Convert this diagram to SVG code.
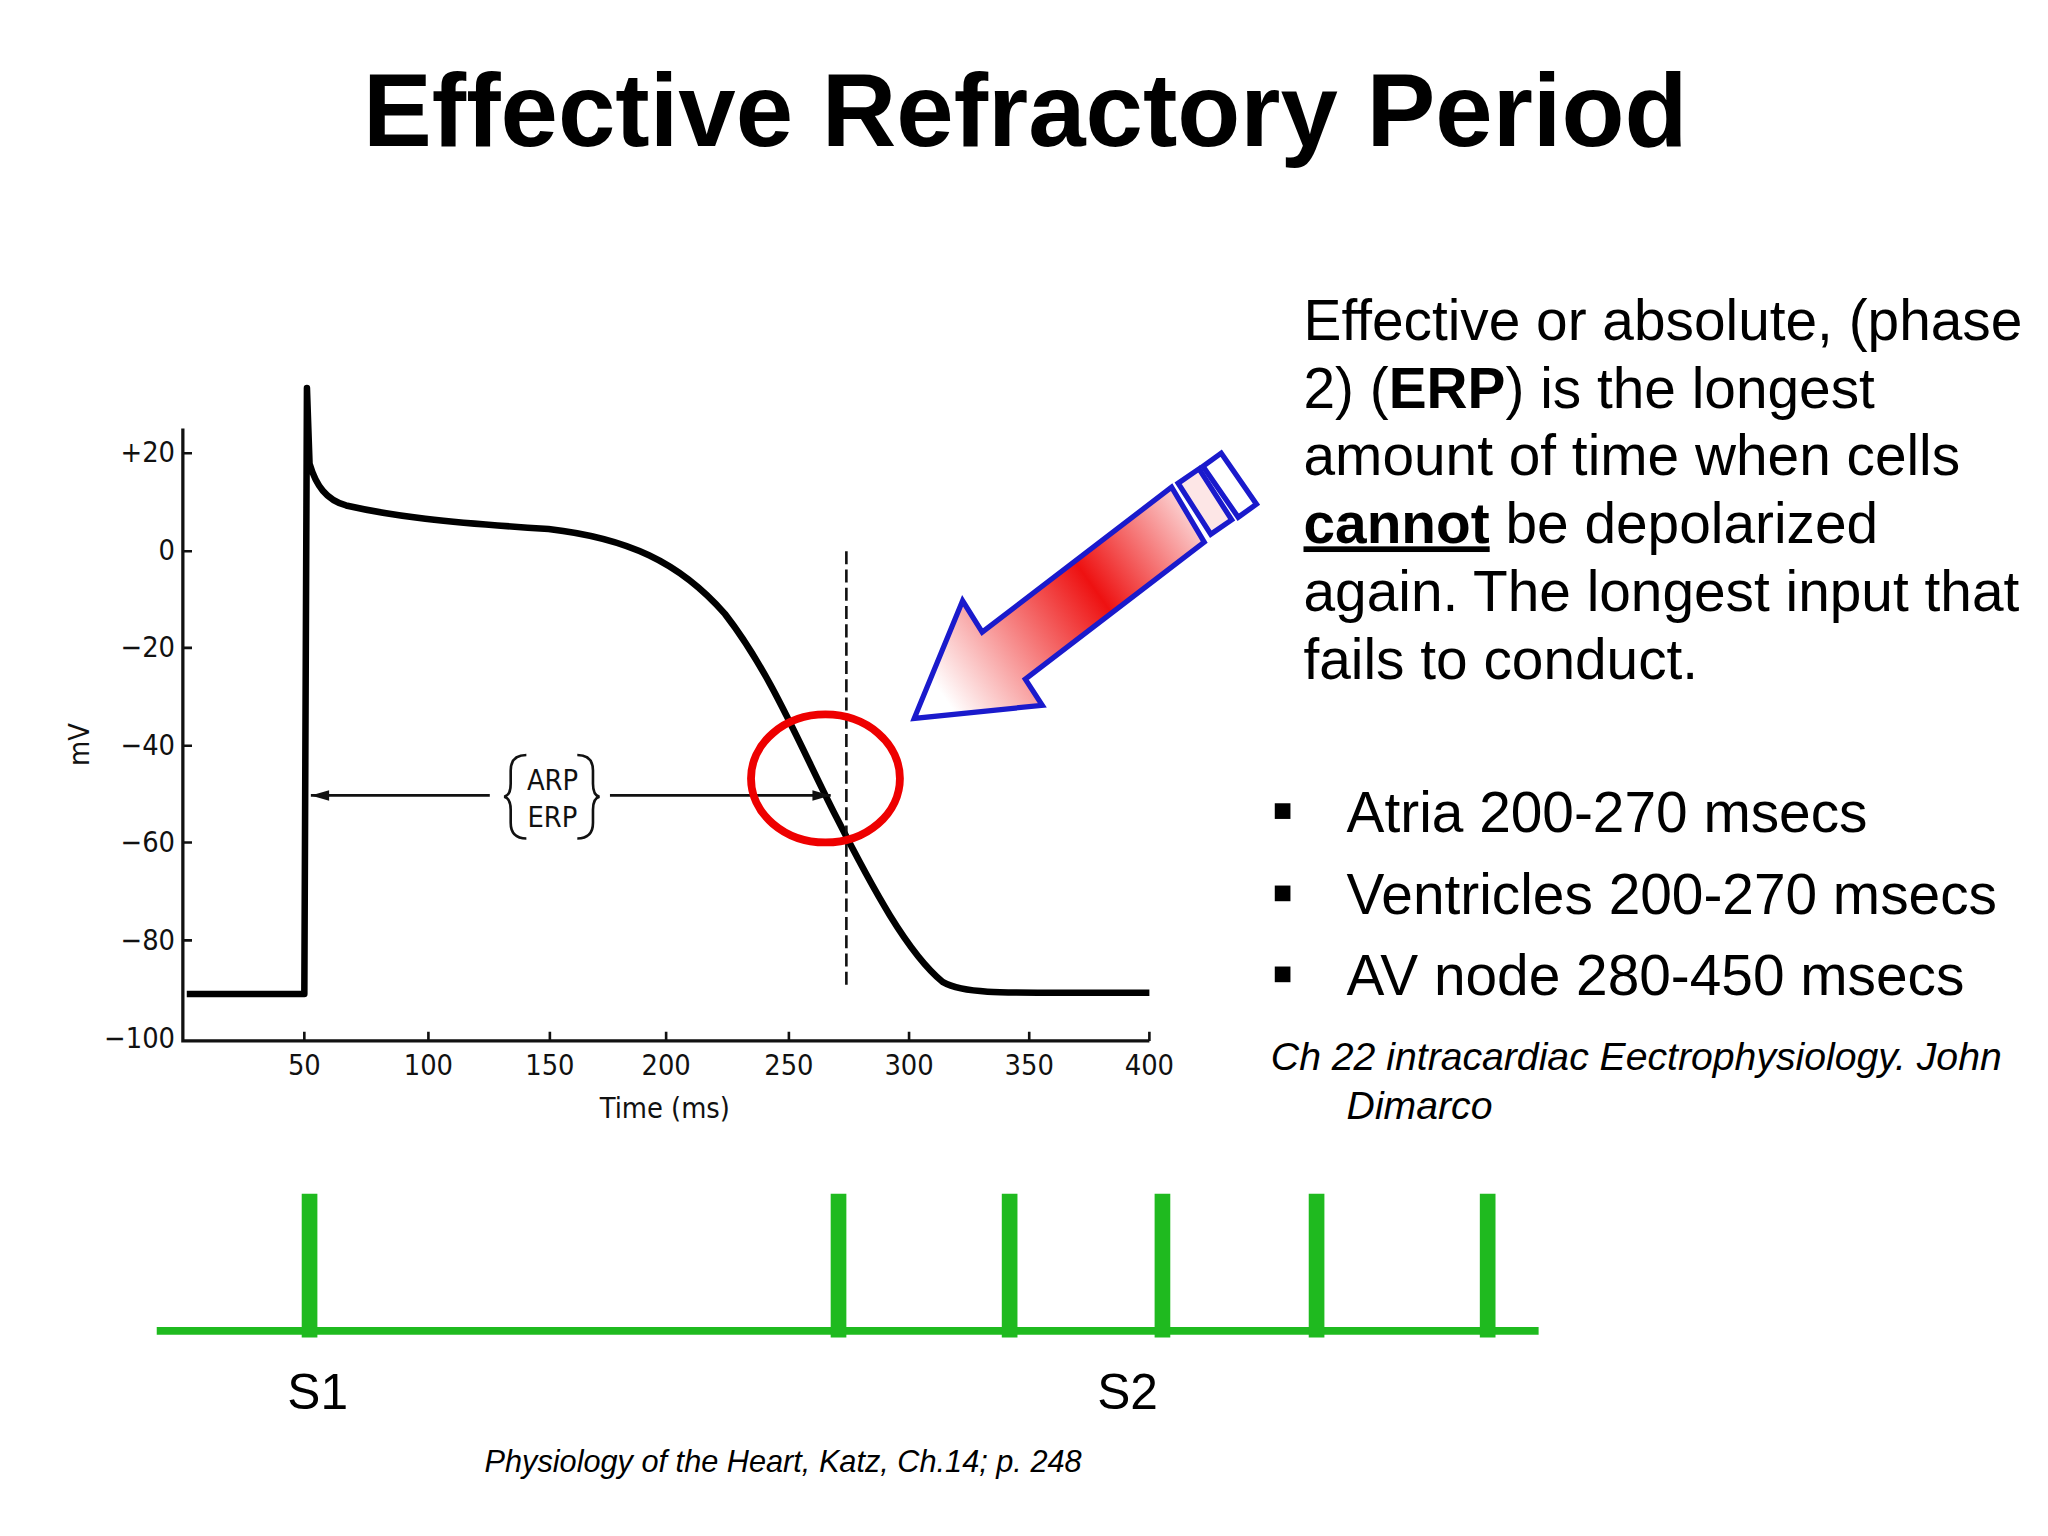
<svg xmlns="http://www.w3.org/2000/svg" width="2048" height="1536" viewBox="0 0 2048 1536">
<style>
.t{font-family:"Liberation Sans",Arial,sans-serif;fill:#000}
.ax{font-family:"DejaVu Sans Condensed","Liberation Sans",sans-serif;font-size:22px;fill:#111}
.g{stroke:#1fba1f;fill:none}
</style>
<defs>
<linearGradient id="rg" gradientUnits="userSpaceOnUse" x1="720" y1="530" x2="930" y2="380">
<stop offset="0" stop-color="#fff"/><stop offset="0.55" stop-color="#ee1111"/><stop offset="1" stop-color="#fff"/>
</linearGradient>
<marker id="ah" viewBox="0 0 14 10" refX="14" refY="5" markerWidth="16" markerHeight="10" markerUnits="userSpaceOnUse" orient="auto-start-reverse"><path d="M0,1 L14,5 L0,9 Z" fill="#111"/></marker>
</defs>
<rect width="2048" height="1536" fill="#fff"/>
<g transform="scale(1.30612)">
<g id="title"><text class="t" x="785" y="112" font-size="79" font-weight="bold" text-anchor="middle">Effective Refractory Period</text></g>
<g id="chart">
<path d="M140,328 V797 H880" stroke="#111" stroke-width="2.5" fill="none"/>
<g stroke="#111" stroke-width="2">
<path d="M140,347h7M140,422h7M140,496h7M140,571h7M140,645h7M140,720h7"/>
<path d="M233,797v-7M328,797v-7M421,797v-7M510,797v-7M604,797v-7M696,797v-7M788,797v-7M880,797v-7"/>
</g>
<g class="ax" text-anchor="end">
<text x="134" y="354">+20</text><text x="134" y="429">0</text><text x="134" y="503">−20</text><text x="134" y="578">−40</text><text x="134" y="652">−60</text><text x="134" y="727">−80</text><text x="134" y="802">−100</text>
</g>
<g class="ax" text-anchor="middle">
<text x="233" y="823">50</text><text x="328" y="823">100</text><text x="421" y="823">150</text><text x="510" y="823">200</text><text x="604" y="823">250</text><text x="696" y="823">300</text><text x="788" y="823">350</text><text x="880" y="823">400</text>
<text x="509" y="856">Time (ms)</text>
<text transform="translate(68,570) rotate(-90)">mV</text>
</g>
<path d="M143,761 L233,761 L235,297 L237,355 C242,372 250,383 265,387 C300,395 340,400 420,405 C480,412 520,430 555,470 C590,515 612,570 640,625 C668,680 695,730 722,752 C740,762 770,760 880,760" stroke="#000" stroke-width="5" fill="none" stroke-linejoin="round"/>
<path d="M648,422 V757" stroke="#111" stroke-width="2" stroke-dasharray="10,4"/>
<path d="M375,609 H238" stroke="#111" stroke-width="2" marker-end="url(#ah)"/>
<path d="M467,609 H636" stroke="#111" stroke-width="2" marker-end="url(#ah)"/>
<path d="M403,578 q-12,0 -12,12 v10 q0,9 -5,10 q5,1 5,10 v10 q0,12 12,12" stroke="#111" stroke-width="2" fill="none"/>
<path d="M442,578 q12,0 12,12 v10 q0,9 5,10 q-5,1 -5,10 v10 q0,12 -12,12" stroke="#111" stroke-width="2" fill="none"/>
<text class="ax" x="423" y="605" text-anchor="middle">ARP</text>
<text class="ax" x="423" y="633" text-anchor="middle">ERP</text>
</g>
<g id="circle"><ellipse cx="632" cy="596" rx="57" ry="49" fill="none" stroke="#ee0000" stroke-width="6"/></g>
<g id="bluearrow" stroke="#1a1acc" stroke-width="4" stroke-linejoin="miter">
<path d="M700,550 L737,460 L752,484 L897,373 L922,415 L785,520 L798,540 Z" fill="url(#rg)"/>
<path d="M902,370 L918,359 L943,398 L927,409 Z" fill="#fde6e6"/>
<path d="M921,357 L935,347 L962,386 L948,396 Z" fill="#fff"/>
</g>
<g id="text" class="t" font-size="43.5">
<text x="998" y="260">Effective or absolute, (phase</text>
<text x="998" y="312">2) (<tspan font-weight="bold">ERP</tspan>) is the longest</text>
<text x="998" y="364">amount of time when cells</text>
<text x="998" y="416"><tspan font-weight="bold" text-decoration="underline">cannot</tspan> be depolarized</text>
<text x="998" y="468">again. The longest input that</text>
<text x="998" y="520">fails to conduct.</text>
</g>
<g id="bullets" class="t" font-size="43.5">
<rect x="976" y="615" width="12" height="12"/><rect x="976" y="678" width="12" height="12"/><rect x="976" y="740" width="12" height="12"/>
<text x="1031" y="637">Atria 200-270 msecs</text>
<text x="1031" y="700">Ventricles 200-270 msecs</text>
<text x="1031" y="762">AV node 280-450 msecs</text>
</g>
<g id="cite" class="t" font-size="30" font-style="italic">
<text x="973" y="819">Ch 22 intracardiac Eectrophysiology. John</text>
<text x="1031" y="857">Dimarco</text>
</g>
<g id="stim">
<path class="g" d="M120,1019 H1178" stroke-width="6"/>
<path class="g" d="M237,914V1024M642,914V1024M773,914V1024M890,914V1024M1008,914V1024M1139,914V1024" stroke-width="12"/>
<text class="t" x="220" y="1079" font-size="38">S1</text>
<text class="t" x="840" y="1079" font-size="38">S2</text>
</g>
<g id="foot"><text class="t" x="371" y="1127" font-size="23.5" font-style="italic">Physiology of the Heart, Katz, Ch.14; p. 248</text></g>
</g>
</svg>
